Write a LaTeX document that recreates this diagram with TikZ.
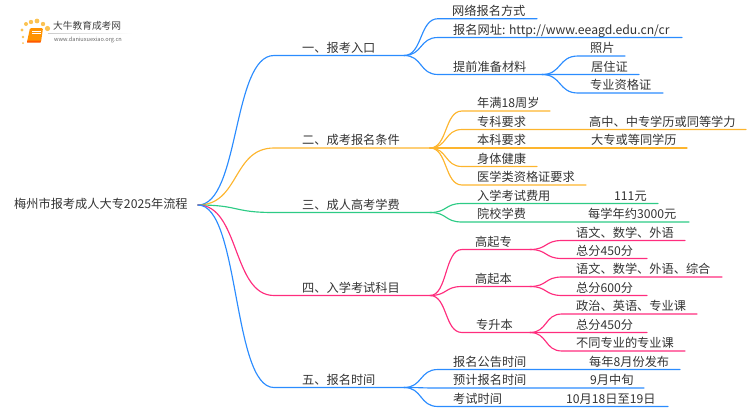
\documentclass[tikz,border=0pt]{standalone}
\usepackage{fontspec}
\setmainfont{Noto Sans CJK SC}
\definecolor{cblue}{HTML}{2B8CFF}
\definecolor{corange}{HTML}{FDB52E}
\definecolor{cgreen}{HTML}{2DCB85}
\definecolor{cpink}{HTML}{FF2D7E}
\definecolor{ctext}{HTML}{333333}
\definecolor{clogo}{HTML}{FBC252}
\tikzset{
  label text/.style={inner sep=0pt,anchor=mid west,text=ctext,font=\fontsize{12.2}{12}\selectfont},
  branch/.style={line width=1.15pt,line cap=round},
  dot/.style={circle,fill=clogo,inner sep=0pt},
}
% name, parent fork, colour, curve end x, y, line end x, text x, text
\newcommand{\bline}[8]{%
  \coordinate (#1-s) at (#4,#5);
  \coordinate (#1-e) at (#6,#5);
  \node[label text] (#1) at (#7,#5-6) {#8};
  \draw[branch,#3] (#2) .. controls ($(#2)!0.55!(#1-s|-#2)$) and ($(#1-s)!0.55!(#2|-#1-s)$) .. (#1-s) -- (#1-e);
}
\usetikzlibrary{calc}
\begin{document}
\begin{tikzpicture}[x=1pt,y=-1pt]
\useasboundingbox (0,0) rectangle (750,410);
% logo
\foreach \i/\px/\py/\r in {a/22/30/1.6,b/23/37/1.3,c/26/24/2,d/31/22/2.2,e/37/21/2.4,f/43/24/2.2,g/47.5/28.5/2.6,h/23/43/1}
  \node[dot,minimum size=2*\r pt] (logo\i) at (\px,\py) {};
\fill[rounded corners=1.2pt,fill=orange!85!yellow] (30,28) -- (43,28) -- (41,42) -- (27,42) -- cycle;
\draw[white,line width=.5pt] (32,31) -- (41,31) (31.5,33) -- (40.5,33);
\fill[orange!70!red] (27,40.5) -- (41,40.5) -- (40.5,42.5) -- (27,42.5) -- cycle;
\shade[left color=black!20,right color=white] (48,33) rectangle (132,33.6);
\node[inner sep=0pt,anchor=mid west,text=black!75,font=\fontsize{9.7}{10}\selectfont] (logotitle) at (53,27) {大牛教育成考网};
\node[inner sep=0pt,anchor=mid west,text=black!60,font=\fontsize{5.6}{6}\selectfont] (logourl) at (54,38.5) {www.daniuxuexiao.org.cn};
% root
\node[label text] (root) at (14,206) {梅州市报考成人大专2025年流程};
\coordinate (fork) at (198,205);
% 1
\bline{a}{fork}{cblue}{274}{55.5}{404}{302}{一、报考入口}
\bline{a1}{a-e}{cblue}{438}{18.7}{537}{452}{网络报名方式}
\bline{a2}{a-e}{cblue}{438}{37.5}{682}{453}{报名网址: http://www.eeagd.edu.cn/cr}
\bline{a3}{a-e}{cblue}{438}{74.5}{542}{453}{提前准备材料}
\bline{a31}{a3-e}{cblue}{578}{56}{625}{590}{照片}
\bline{a32}{a3-e}{cblue}{578}{74.5}{639}{591}{居住证}
\bline{a33}{a3-e}{cblue}{578}{93}{663}{590}{专业资格证}
% 2
\bline{b}{fork}{corange}{274}{148}{430}{302}{二、成考报名条件}
\bline{b1}{b-e}{corange}{462}{111}{550}{477}{年满18周岁}
\bline{b2}{b-e}{corange}{462}{129.5}{746}{477}{专科要求}
\bline{b3}{b-e}{corange}{462}{148}{687}{477}{本科要求}
\bline{b4}{b-e}{corange}{462}{166.5}{537}{477}{身体健康}
\bline{b5}{b-e}{corange}{462}{185}{586}{477}{医学类资格证要求}
\node[label text] (b2v) at (589,123.5) {高中、中专学历或同等学力};
\node[label text] (b3v) at (591,142) {大专或等同学历};
% 3
\bline{c}{fork}{cgreen}{274}{212.5}{430}{302}{三、成人高考学费}
\bline{c1}{c-e}{cgreen}{462}{203.5}{658}{477}{入学考试费用}
\bline{c2}{c-e}{cgreen}{462}{222}{689}{477}{院校学费}
\node[label text] (c1v) at (614,197.5) {111元};
\node[label text] (c2v) at (588,216) {每学年约3000元};
% 4
\bline{d}{fork}{cpink}{274}{295.5}{430}{302}{四、入学考试科目}
\bline{d1}{d-e}{cpink}{462}{249.5}{530}{475}{高起专}
\bline{d2}{d-e}{cpink}{462}{286.5}{530}{475}{高起本}
\bline{d3}{d-e}{cpink}{462}{332.5}{530}{476}{专升本}
\bline{d11}{d1-e}{cpink}{562}{240.5}{685}{576}{语文、数学、外语}
\bline{d12}{d1-e}{cpink}{562}{258.5}{647}{576}{总分450分}
\bline{d21}{d2-e}{cpink}{562}{277}{722}{576}{语文、数学、外语、综合}
\bline{d22}{d2-e}{cpink}{562}{295.5}{647}{576}{总分600分}
\bline{d31}{d3-e}{cpink}{562}{314}{697}{576}{政治、英语、专业课}
\bline{d32}{d3-e}{cpink}{562}{332.5}{647}{576}{总分450分}
\bline{d33}{d3-e}{cpink}{562}{351}{685}{576}{不同专业的专业课}
% 5
\bline{e}{fork}{cblue}{274}{387.5}{404}{302}{五、报名时间}
\bline{e1}{e-e}{cblue}{438}{369.5}{680}{453}{报名公告时间}
\bline{e2}{e-e}{cblue}{438}{388}{644}{453}{预计报名时间}
\bline{e3}{e-e}{cblue}{438}{406.5}{668}{453}{考试时间}
\node[label text] (e1v) at (589,363.5) {每年8月份发布};
\node[label text] (e2v) at (590,382) {9月中旬};
\node[label text] (e3v) at (566,400.5) {10月18日至19日};
\end{tikzpicture}
\end{document}
